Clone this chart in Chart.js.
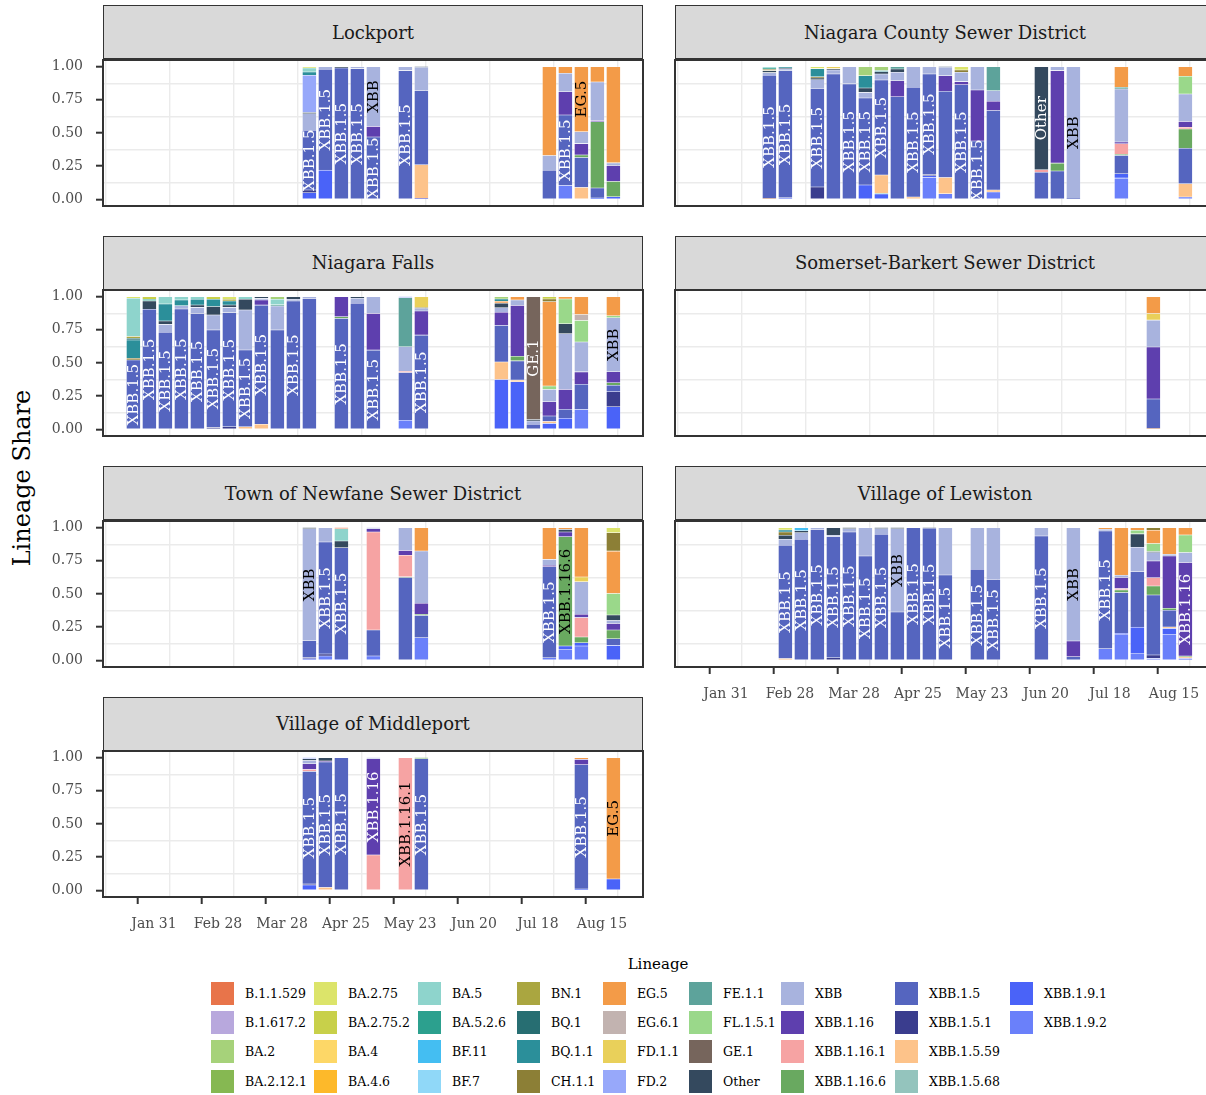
<!DOCTYPE html>
<html><head><meta charset="utf-8">
<script src="https://cdn.jsdelivr.net/npm/chart.js@4.4.0/dist/chart.umd.min.js"></script>
<style>
html,body{margin:0;padding:0;background:#fff;}
body{width:1206px;height:1095px;overflow:hidden;position:relative;font-family:"DejaVu Serif",serif;}
.strip{position:absolute;background:#D9D9D9;border:1.5px solid #333;box-sizing:border-box;font-size:18px;color:#1a1a1a;display:flex;align-items:center;justify-content:center;white-space:nowrap;}
canvas{position:absolute;}
.ytitle{position:absolute;left:22px;top:478px;transform:translate(-50%,-50%) rotate(-90deg);font-size:24px;color:#000;white-space:nowrap;}
.lgtitle{position:absolute;left:658px;top:964px;transform:translate(-50%,-50%);font-size:15px;color:#000;}
.lgbox{position:absolute;width:23px;height:23px;}
.lgtext{position:absolute;font-size:12.5px;color:#000;line-height:23px;white-space:nowrap;}
</style></head><body>
<div class="ytitle">Lineage Share</div>
<div class="lgtitle">Lineage</div>
<script>
// ---------- legend / lineage order ----------
const lineages = ['B.1.1.529','B.1.617.2','BA.2','BA.2.12.1','BA.2.75','BA.2.75.2','BA.4','BA.4.6','BA.5','BA.5.2.6','BF.11','BF.7','BN.1','BQ.1','BQ.1.1','CH.1.1','EG.5','EG.6.1','FD.1.1','FD.2','FE.1.1','FL.1.5.1','GE.1','Other','XBB','XBB.1.16','XBB.1.16.1','XBB.1.16.6','XBB.1.5','XBB.1.5.1','XBB.1.5.59','XBB.1.5.68','XBB.1.9.1','XBB.1.9.2'];
const lineageColors = ['#E8744A','#B8A8DD','#A6D27A','#86B852','#DCE46A','#C8D04A','#FDD767','#FDB92A','#8ED4CC','#2CA08E','#44BEF2','#90D8F8','#AAA640','#276E72','#2B8F9A','#8C7F36','#F39B48','#C2B3B0','#E9D05A','#97A8FA','#5DA39B','#9AD88A','#76655C','#34495E','#A8B3DE','#5E3FAE','#F6A3A3','#69A960','#5565BF','#3A3D8E','#FDC38A','#94C4BD','#4A63F8','#6A80FA'];

// ---------- axis ticks ----------
const tickDates = ['01-31','02-28','03-28','04-25','05-23','06-20','07-18','08-15'];
const tickLabels = ['Jan 31','Feb 28','Mar 28','Apr 25','May 23','Jun 20','Jul 18','Aug 15'];
const yTickValues = [0,0.25,0.5,0.75,1];
const yTickLabels = ['0.00','0.25','0.50','0.75','1.00'];

// ---------- Lockport ----------
const lockportWeeks = ['04-09','04-16','04-23','04-30','05-07','05-21','05-28','07-23','07-30','08-06','08-13','08-20'];
const lockportShares = [
 {'XBB.1.9.1':.05,'XBB.1.5.1':.02,'XBB.1.5':.45,'XBB':.125,'Other':.01,'FD.2':.28,'BQ.1.1':.025,'BA.5':.03,'BA.2.75':.01},
 {'XBB.1.9.1':.22,'XBB.1.5':.76,'XBB':.02},
 {'XBB.1.5':.99,'Other':.01},
 {'XBB.1.5':.985,'XBB':.015},
 {'XBB.1.5':.47,'XBB.1.16':.08,'XBB':.45},
 {'XBB.1.5':.97,'XBB':.03},
 {'XBB.1.9.1':.005,'XBB.1.5.59':.255,'XBB.1.5':.56,'XBB':.175,'Other':.005},
 {'XBB.1.5':.22,'XBB':.11,'EG.5':.67},
 {'XBB.1.9.2':.105,'XBB.1.5':.53,'XBB.1.16':.175,'XBB':.14,'EG.5':.05},
 {'XBB.1.5.59':.09,'XBB.1.5':.225,'XBB.1.16.6':.02,'XBB.1.16':.085,'XBB':.09,'EG.5':.49},
 {'XBB.1.9.2':.01,'XBB.1.5':.075,'XBB.1.16.6':.50,'XBB.1.16':.01,'XBB':.29,'EG.5':.115},
 {'XBB.1.9.1':.02,'XBB.1.16.6':.115,'XBB.1.16':.12,'XBB':.02,'EG.5':.725}
];
const lockportLabels = ['XBB.1.5','XBB.1.5','XBB.1.5','XBB.1.5','XBB.1.5|XBB','XBB.1.5','','','XBB.1.5','EG.5','',''];

// ---------- Niagara County Sewer District ----------
const ncsdWeeks = ['02-19','02-26','03-12','03-19','03-26','04-02','04-09','04-16','04-23','04-30','05-07','05-14','05-21','05-28','06-18','06-25','07-02','07-23','08-20'];
const ncsdShares = [
 {'XBB.1.5.59':.005,'XBB.1.5':.93,'XBB':.02,'Other':.015,'CH.1.1':.01,'BA.5':.01,'BA.5.2.6':.01},
 {'XBB.1.9.1':.012,'XBB.1.5':.957,'XBB':.013,'Other':.008,'BQ.1.1':.01},
 {'XBB.1.5.1':.093,'XBB.1.5':.743,'XBB':.065,'Other':.013,'BQ.1.1':.061,'CH.1.1':.01,'BA.2.75':.015},
 {'XBB.1.5':.945,'XBB':.03,'Other':.01,'FD.1.1':.015},
 {'XBB.1.5':.87,'XBB':.13},
 {'XBB.1.9.1':.108,'XBB.1.5':.655,'XBB':.043,'Other':.033,'BQ.1.1':.093,'BA.2':.068},
 {'XBB.1.9.1':.04,'XBB.1.5.68':.005,'XBB.1.5.59':.138,'XBB.1.5':.716,'XBB':.045,'Other':.018,'BQ.1.1':.008,'BA.2':.03},
 {'XBB.1.5':.773,'XBB.1.16':.121,'XBB':.063,'Other':.025,'FE.1.1':.018},
 {'XBB.1.5.59':.018,'XBB.1.5':.826,'XBB':.156},
 {'XBB.1.9.2':.165,'XBB.1.9.1':.013,'XBB.1.5.1':.01,'XBB.1.5':.757,'XBB':.055},
 {'XBB.1.9.2':.043,'XBB.1.5.59':.121,'XBB.1.5':.65,'XBB.1.16':.118,'XBB':.063,'Other':.005},
 {'XBB.1.5':.864,'XBB.1.16':.023,'XBB':.07,'CH.1.1':.018,'BA.2.75':.025},
 {'XBB.1.5':.44,'XBB.1.16':.384,'XBB':.176},
 {'XBB.1.9.2':.055,'XBB.1.5.59':.015,'XBB.1.5':.599,'XBB.1.16':.07,'XBB':.08,'FE.1.1':.181},
 {'XBB.1.5':.205,'XBB.1.16.1':.018,'Other':.777},
 {'XBB.1.5':.213,'XBB.1.16.6':.06,'XBB.1.16':.697,'XBB':.03},
 {'XBB.1.5':.005,'XBB':.995},
 {'XBB.1.9.2':.16,'XBB.1.9.1':.033,'XBB.1.5':.138,'XBB.1.16.6':.008,'XBB.1.16.1':.08,'XBB.1.16':.013,'XBB':.40,'EG.5':.155,'FE.1.1':.013},
 {'XBB.1.9.2':.018,'XBB.1.5.59':.1,'XBB.1.5':.267,'XBB.1.16.6':.145,'XBB.1.16.1':.013,'XBB.1.16':.043,'XBB':.208,'FL.1.5.1':.133,'EG.5':.073}
];
const ncsdLabels = ['XBB.1.5','XBB.1.5','XBB.1.5','','XBB.1.5','XBB.1.5','XBB.1.5','','XBB.1.5','XBB.1.5','','XBB.1.5','XBB.1.5','','Other','','XBB','',''];

// ---------- Niagara Falls ----------
const fallsWeeks = ['01-22','01-29','02-05','02-12','02-19','02-26','03-05','03-12','03-19','03-26','04-02','04-09','04-23','04-30','05-07','05-21','05-28','07-02','07-09','07-16','07-23','07-30','08-06','08-20'];
const fallsShares = [
 {'XBB.1.5':.523,'CH.1.1':.013,'BQ.1.1':.138,'BQ.1':.013,'BN.1':.013,'BA.5':.288,'BA.2.75':.012},
 {'XBB.1.5':.905,'Other':.063,'BA.5.2.6':.012,'BA.2.75.2':.02},
 {'XBB.1.5':.731,'XBB':.06,'Other':.026,'BQ.1.1':.128,'BA.5':.055},
 {'XBB.1.5':.907,'XBB':.025,'BQ.1.1':.043,'BA.5':.025},
 {'XBB.1.5':.874,'XBB':.045,'Other':.018,'BQ.1.1':.043,'BA.5':.02},
 {'XBB.1.5.1':.015,'XBB.1.5':.734,'XBB':.113,'Other':.063,'BQ.1.1':.055,'BA.2.75.2':.02},
 {'XBB.1.5.1':.02,'XBB.1.5':.859,'XBB':.04,'Other':.018,'BQ.1.1':.03,'BN.1':.013,'BA.2.75':.02},
 {'XBB.1.5.59':.02,'XBB.1.5':.578,'XBB':.302,'Other':.08,'BA.5':.02},
 {'XBB.1.5.59':.038,'XBB.1.5':.898,'XBB.1.16':.038,'XBB':.013,'Other':.013},
 {'XBB.1.5':.749,'XBB':.181,'FE.1.1':.008,'BA.5':.042,'BA.2':.02},
 {'XBB.1.5':.967,'XBB':.013,'Other':.02},
 {'XBB.1.5':.987,'XBB':.013},
 {'XBB.1.5':.836,'XBB.1.16.6':.013,'XBB.1.16':.151},
 {'XBB.1.5':.95,'XBB':.038,'Other':.012},
 {'XBB.1.5':.597,'XBB.1.16':.277,'XBB':.126},
 {'XBB.1.9.2':.068,'XBB.1.5':.36,'XBB.1.16.1':.01,'XBB':.184,'FE.1.1':.37,'FD.2':.008},
 {'XBB.1.5':.71,'XBB.1.16':.181,'XBB':.02,'Other':.006,'FD.1.1':.083},
 {'XBB.1.9.1':.375,'XBB.1.5.59':.133,'XBB.1.5':.275,'XBB.1.16':.1,'XBB':.033,'Other':.035,'EG.5':.015,'BQ.1.1':.016,'BA.2':.018},
 {'XBB.1.9.1':.358,'XBB.1.5.59':.013,'XBB.1.5':.145,'XBB.1.16.6':.035,'XBB.1.16':.383,'XBB':.041,'EG.5':.025},
 {'XBB.1.5':.038,'XBB':.025,'Other':.012,'GE.1':.925},
 {'XBB.1.9.1':.045,'XBB.1.5.59':.015,'XBB.1.5':.04,'XBB.1.16':.108,'XBB':.093,'FL.1.5.1':.025,'EG.5':.636,'CH.1.1':.02,'BA.2.75.2':.018},
 {'XBB.1.9.1':.083,'XBB.1.5':.068,'XBB.1.16':.15,'XBB':.42,'Other':.075,'FL.1.5.1':.186,'EG.5':.018},
 {'XBB.1.9.2':.15,'XBB.1.5':.19,'XBB.1.16':.093,'XBB':.225,'FL.1.5.1':.162,'EG.6.1':.045,'EG.5':.135},
 {'XBB.1.9.1':.17,'XBB.1.5.1':.113,'XBB.1.5':.05,'XBB.1.16.6':.018,'XBB.1.16':.083,'XBB':.407,'FL.1.5.1':.015,'EG.5':.144}
];
const fallsLabels = ['XBB.1.5','XBB.1.5','XBB.1.5','XBB.1.5','XBB.1.5','XBB.1.5','XBB.1.5','XBB.1.5','XBB.1.5','','XBB.1.5','','XBB.1.5','','XBB.1.5','','XBB.1.5','','','GE.1','','','','XBB'];

// ---------- Somerset-Barkert Sewer District ----------
const somersetWeeks = ['08-06'];
const somersetShares = [
 {'XBB.1.5.59':.005,'XBB.1.5':.223,'XBB.1.16':.392,'XBB':.203,'FD.1.1':.05,'EG.5':.127}
];
const somersetLabels = [''];

// ---------- Town of Newfane Sewer District ----------
const newfaneWeeks = ['04-09','04-16','04-23','05-07','05-21','05-28','07-23','07-30','08-06','08-20'];
const newfaneShares = [
 {'XBB.1.9.1':.013,'XBB.1.5.1':.008,'XBB.1.5':.126,'XBB':.845,'Other':.008},
 {'XBB.1.9.2':.033,'XBB.1.5.1':.015,'XBB.1.5':.844,'XBB':.108},
 {'XBB.1.9.1':.008,'XBB.1.5':.841,'Other':.05,'BA.5':.093,'B.1.1.529':.008},
 {'XBB.1.9.2':.033,'XBB.1.5':.196,'XBB.1.16.1':.738,'XBB.1.16':.025,'XBB':.008},
 {'XBB.1.5':.624,'XBB.1.16.6':.005,'XBB.1.16.1':.163,'XBB.1.16':.035,'XBB':.173},
 {'XBB.1.9.2':.171,'XBB.1.5':.168,'XBB.1.16.6':.008,'XBB.1.16':.083,'XBB':.394,'EG.5':.176},
 {'XBB.1.9.2':.02,'XBB.1.5':.686,'XBB.1.16':.01,'XBB':.045,'EG.5':.239},
 {'XBB.1.9.2':.083,'XBB.1.9.1':.025,'XBB.1.16.6':.824,'XBB.1.16':.035,'Other':.02,'EG.5':.013},
 {'XBB.1.9.2':.108,'XBB.1.9.1':.025,'XBB.1.16.6':.043,'XBB.1.16.1':.146,'XBB.1.16':.025,'XBB':.246,'FD.1.1':.035,'EG.5':.372},
 {'XBB.1.9.1':.113,'XBB.1.5':.05,'XBB.1.16.6':.065,'XBB.1.16':.05,'XBB':.023,'Other':.04,'FL.1.5.1':.163,'EG.5':.319,'CH.1.1':.139,'BA.2.75':.038}
];
const newfaneLabels = ['XBB','XBB.1.5','XBB.1.5','','','','XBB.1.5','XBB.1.16.6','',''];

// ---------- Village of Lewiston ----------
const lewistonWeeks = ['02-26','03-05','03-12','03-19','03-26','04-02','04-09','04-16','04-23','04-30','05-07','05-21','05-28','06-18','07-02','07-16','07-23','07-30','08-06','08-13','08-20'];
const lewistonShares = [
 {'XBB.1.5.59':.013,'XBB.1.5':.854,'XBB':.045,'Other':.03,'CH.1.1':.025,'BQ.1.1':.015,'BA.2.75':.018},
 {'XBB.1.5':.912,'XBB':.05,'Other':.015,'BF.11':.023},
 {'XBB.1.5':.987,'XBB':.013},
 {'XBB.1.5.1':.02,'XBB.1.5':.912,'XBB':.01,'Other':.058},
 {'XBB.1.5':.967,'XBB':.025,'Other':.008},
 {'XBB.1.5':.786,'XBB':.214},
 {'XBB.1.5':.95,'XBB':.043,'Other':.007},
 {'XBB.1.5':.364,'XBB':.628,'Other':.008},
 {'XBB.1.5':1.0},
 {'XBB.1.5':.995,'Other':.005},
 {'XBB.1.5':.643,'XBB':.357},
 {'XBB.1.5':.686,'XBB':.314},
 {'XBB.1.5':.61,'XBB':.39},
 {'XBB.1.5':.937,'XBB':.063},
 {'XBB.1.5':.028,'XBB.1.16':.118,'XBB':.854},
 {'XBB.1.9.2':.088,'XBB.1.5':.887,'XBB':.013,'EG.5':.012},
 {'XBB.1.9.2':.196,'XBB.1.9.1':.008,'XBB.1.5':.307,'XBB.1.16.6':.02,'XBB.1.16.1':.01,'XBB.1.16':.083,'XBB':.018,'EG.5':.358},
 {'XBB.1.9.2':.05,'XBB.1.9.1':.2,'XBB.1.5':.417,'XBB':.186,'Other':.1,'FL.1.5.1':.027,'EG.5':.02},
 {'XBB.1.9.2':.015,'XBB.1.5.1':.025,'XBB.1.5':.452,'XBB.1.16.6':.068,'XBB.1.16.1':.063,'XBB.1.16':.126,'XBB':.063,'Other':.008,'FL.1.5.1':.06,'EG.5':.1,'CH.1.1':.02},
 {'XBB.1.9.2':.196,'XBB.1.9.1':.045,'XBB.1.5.59':.01,'XBB.1.5':.126,'XBB.1.16.6':.015,'XBB.1.16':.394,'XBB':.013,'EG.5':.201},
 {'XBB.1.9.1':.015,'XBB.1.5.59':.01,'XBB.1.16.6':.008,'XBB.1.16':.704,'XBB':.075,'FL.1.5.1':.133,'EG.5':.055}
];
const lewistonLabels = ['XBB.1.5','XBB.1.5','XBB.1.5','XBB.1.5','XBB.1.5','XBB.1.5','XBB.1.5','XBB','XBB.1.5','XBB.1.5','XBB.1.5','XBB.1.5','XBB.1.5','XBB.1.5','XBB','XBB.1.5','','','','','XBB.1.16'];

// ---------- Village of Middleport ----------
const middleportWeeks = ['04-09','04-16','04-23','05-07','05-21','05-28','08-06','08-20'];
const middleportShares = [
 {'XBB.1.9.1':.04,'XBB.1.5.1':.008,'XBB.1.5':.848,'XBB.1.16.1':.015,'XBB.1.16':.043,'XBB':.025,'Other':.013,'FD.2':.008},
 {'XBB.1.5.59':.022,'XBB.1.5':.945,'XBB.1.16':.008,'Other':.025},
 {'XBB.1.5':1.0},
 {'XBB.1.16.1':.267,'XBB.1.16':.725,'XBB':.008},
 {'XBB.1.16.1':1.0},
 {'XBB.1.5':.992,'XBB.1.16.6':.008},
 {'XBB.1.9.2':.01,'XBB.1.5':.937,'XBB.1.16':.04,'EG.5':.013},
 {'XBB.1.9.1':.086,'EG.5':.914}
];
const middleportLabels = ['XBB.1.5','XBB.1.5','XBB.1.5','XBB.1.16','XBB.1.16.1','XBB.1.5','XBB.1.5','EG.5'];

// ================= drawing =================
const FONT = '"DejaVu Serif", serif';
Chart.defaults.font.family = FONT;
const monthStart = [0,31,59,90,120,151,181,212,243,273,304,334];
function dayOf(s){ const [m,d] = s.split('-').map(Number); return monthStart[m-1] + d - 1; }
const stackOrder = lineages.slice().reverse();   // bottom -> top
const colorOf = {}; lineages.forEach((l,i)=> colorOf[l] = lineageColors[i]);
function textColorFor(l){
  const c = colorOf[l]; const r=parseInt(c.substr(1,2),16), g=parseInt(c.substr(3,2),16), b=parseInt(c.substr(5,2),16);
  return (0.299*r+0.587*g+0.114*b)/255 > 0.5 ? '#000000' : '#FFFFFF';
}
const majorDays = tickDates.map(dayOf);
const xGridTicks = [];
majorDays.forEach(d => { xGridTicks.push(d-14); xGridTicks.push(d); });
xGridTicks.push(majorDays[majorDays.length-1] + 14);
const X_MIN = majorDays[0] - 22.3, X_MAX = X_MIN + 236.25;
const yGridTicks = [0,0.125,0.25,0.375,0.5,0.625,0.75,0.875,1];

const panels = [
 {title:'Lockport', weeks:lockportWeeks, shares:lockportShares, labels:lockportLabels, col:0, row:0, axis:false},
 {title:'Niagara County Sewer District', weeks:ncsdWeeks, shares:ncsdShares, labels:ncsdLabels, col:1, row:0, axis:false},
 {title:'Niagara Falls', weeks:fallsWeeks, shares:fallsShares, labels:fallsLabels, col:0, row:1, axis:false},
 {title:'Somerset-Barkert Sewer District', weeks:somersetWeeks, shares:somersetShares, labels:somersetLabels, col:1, row:1, axis:false},
 {title:'Town of Newfane Sewer District', weeks:newfaneWeeks, shares:newfaneShares, labels:newfaneLabels, col:0, row:2, axis:false},
 {title:'Village of Lewiston', weeks:lewistonWeeks, shares:lewistonShares, labels:lewistonLabels, col:1, row:2, axis:true},
 {title:'Village of Middleport', weeks:middleportWeeks, shares:middleportShares, labels:middleportLabels, col:0, row:3, axis:true}
];

const borderPlugin = { id:'panelBorder', afterDraw(chart){
  const {ctx, chartArea:a} = chart; ctx.save(); ctx.strokeStyle='#333333'; ctx.lineWidth=2;
  ctx.strokeRect(a.left, a.top, a.width, a.height); ctx.restore(); } };

function makeLabelPlugin(p){
  return { id:'barLabels', afterDatasetsDraw(chart){
    const {ctx, scales:{x,y}} = chart;
    p.weeks.forEach((w,i)=>{
      if(!p.labels[i]) return;
      p.labels[i].split('|').forEach(L=>{
        let cum=0, lo=0, hi=0;
        for(const s of stackOrder){ const v = p.shares[i][s]||0; if(s===L){lo=cum;hi=cum+v;} cum+=v; }
        const px = x.getPixelForValue(dayOf(w)), py = y.getPixelForValue((lo+hi)/2);
        ctx.save(); ctx.translate(px, py); ctx.rotate(-Math.PI/2);
        ctx.font = '15px ' + FONT; ctx.textAlign='center'; ctx.textBaseline='middle';
        ctx.fillStyle = textColorFor(L); ctx.fillText(L, 0, 1); ctx.restore();
      });
    });
  }};
}

const ROW_PITCH = 230.5, PLOT_TOP0 = 59.5, PLOT_H = 146;
panels.forEach((p, idx) => {
  const plotTop = PLOT_TOP0 + p.row*ROW_PITCH;
  const plotLeft = p.col===0 ? 103 : 675;
  // strip
  const s = document.createElement('div'); s.className='strip';
  s.style.left = plotLeft+'px'; s.style.top = (plotTop-54.5)+'px'; s.style.width='540px'; s.style.height='54px';
  s.textContent = p.title; document.body.appendChild(s);
  // canvas
  const cv = document.createElement('canvas');
  const cLeft = p.col===0 ? 0 : 600, cW = p.col===0 ? 650 : 620;
  const xH = p.axis ? 45 : 0;
  const cH = 4 + PLOT_H + xH + 4;
  cv.width = cW; cv.height = cH; cv.style.left = cLeft+'px'; cv.style.top = (plotTop-4)+'px';
  cv.style.width = cW+'px'; cv.style.height = cH+'px';
  document.body.appendChild(cv);

  const datasets = stackOrder.map(L => {
    const data = [];
    p.weeks.forEach((w,i)=>{ const v = p.shares[i][L]; if(v) data.push({x: dayOf(w), y: v}); });
    return { label:L, data, backgroundColor: colorOf[L], borderColor:'rgba(255,255,255,0.35)', borderWidth:0.6, borderSkipped:false, barThickness:14 };
  }).filter(d => d.data.length);

  new Chart(cv, {
    type:'bar',
    data:{ datasets },
    options:{
      responsive:false, animation:false, devicePixelRatio:1,
      layout:{ padding:{ top:4, bottom:4, left:0, right: p.col===0 ? 7 : 5 } },
      plugins:{ legend:{display:false}, tooltip:{enabled:false} },
      scales:{
        x:{ type:'linear', min:X_MIN, max:X_MAX, stacked:true, offset:false,
            afterBuildTicks: sc => { sc.ticks = xGridTicks.map(v=>({value:v})); },
            afterFit: sc => { sc.height = xH; sc.paddingLeft = 0; sc.paddingRight = 0; },
            grid:{ color: c => majorDays.includes(c.tick && c.tick.value) ? 'rgba(0,0,0,0)' : '#EBEBEB',
                   lineWidth:1.4, drawTicks:p.axis, tickLength:7, tickWidth:2,
                   tickColor: c => majorDays.includes(c.tick && c.tick.value) ? '#333333' : 'rgba(0,0,0,0)' },
            border:{ display:false },
            ticks:{ display:p.axis, autoSkip:false, maxRotation:0, padding:12, color:'#4D4D4D', font:{size:14, family:FONT},
                    callback: v => { const k = majorDays.indexOf(v); return k>=0 ? tickLabels[k] : ''; } } },
        y:{ type:'linear', min:-0.05, max:1.05, stacked:true,
            afterBuildTicks: sc => { sc.ticks = yGridTicks.map(v=>({value:v})); },
            afterFit: sc => { sc.width = p.col===0 ? 103 : 75; sc.paddingTop = 0; sc.paddingBottom = 0; },
            grid:{ color: c => yTickValues.includes(c.tick && c.tick.value) ? 'rgba(0,0,0,0)' : '#EBEBEB',
                   lineWidth:1.4, drawTicks:p.col===0, tickLength:7, tickWidth:2,
                   tickColor: c => yTickValues.includes(c.tick && c.tick.value) ? '#333333' : 'rgba(0,0,0,0)' },
            border:{ display:false },
            ticks:{ display:p.col===0, autoSkip:false, padding:13, color:'#4D4D4D', font:{size:14, family:FONT},
                    callback: v => { const k = yTickValues.indexOf(v); return k>=0 ? yTickLabels[k] : ''; } } }
      }
    },
    plugins:[ makeLabelPlugin(p), borderPlugin ]
  });
});

// ---------- legend ----------
const legendCols = [211,314,418,517,603,689,781,895,1010];
const legendRows = [993,1022,1051,1081];
lineages.forEach((l,i)=>{
  const c = Math.floor(i/4), r = i%4;
  const b = document.createElement('div'); b.className='lgbox';
  b.style.left = legendCols[c]+'px'; b.style.top = (legendRows[r]-11.5)+'px'; b.style.background = lineageColors[i];
  document.body.appendChild(b);
  const t = document.createElement('div'); t.className='lgtext';
  t.style.left = (legendCols[c]+34)+'px'; t.style.top = (legendRows[r]-11.5)+'px'; t.textContent = l;
  document.body.appendChild(t);
});
</script>
</body></html>
